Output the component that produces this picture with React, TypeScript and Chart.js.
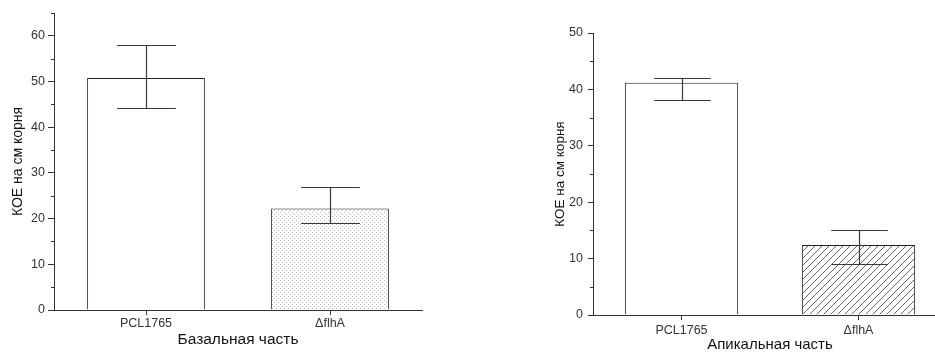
import React, { useEffect, useRef } from "react";
import { Chart, registerables } from "chart.js";

Chart.register(...registerables);

const categories = ["PCL1765", "ΔflhA"];

const basalValues = [50.8, 22.2];
const basalHigh = [58.0, 27.0];
const basalLow = [44.1, 19.0];
const basalYTicks = [0, 10, 20, 30, 40, 50, 60];
const basalMinorTicks = [5, 15, 25, 35, 45, 55, 65];

const apicalValues = [41.2, 12.4];
const apicalHigh = [42.1, 15.0];
const apicalLow = [38.1, 9.0];
const apicalYTicks = [0, 10, 20, 30, 40, 50];
const apicalMinorTicks = [5, 15, 25, 35, 45];

const yTitle = "КОЕ на см корня";
const basalTitle = "Базальная часть";
const apicalTitle = "Апикальная часть";

const FONT = "'Liberation Sans', Arial, sans-serif";

function makeDots(): CanvasPattern | string {
  const c = document.createElement("canvas");
  c.width = 4;
  c.height = 4;
  const g = c.getContext("2d");
  if (!g) return "#eee";
  g.fillStyle = "#fff";
  g.fillRect(0, 0, 4, 4);
  g.fillStyle = "#b4b4b4";
  g.fillRect(0, 0, 1, 1);
  g.fillRect(2, 2, 1, 1);
  return g.createPattern(c, "repeat") || "#eee";
}

function makeHatch(): CanvasPattern | string {
  const s = 7;
  const c = document.createElement("canvas");
  c.width = s;
  c.height = s;
  const g = c.getContext("2d");
  if (!g) return "#ddd";
  g.fillStyle = "#fff";
  g.fillRect(0, 0, s, s);
  g.strokeStyle = "#555";
  g.lineWidth = 0.9;
  g.beginPath();
  g.moveTo(0, s);
  g.lineTo(s, 0);
  g.moveTo(-1, 1);
  g.lineTo(1, -1);
  g.moveTo(s - 1, s + 1);
  g.lineTo(s + 1, s - 1);
  g.stroke();
  return g.createPattern(c, "repeat") || "#ddd";
}

function errorBarPlugin(high: number[], low: number[]) {
  return {
    id: "errbars",
    afterDatasetsDraw(chart: any) {
      const ctx = chart.ctx;
      const meta = chart.getDatasetMeta(0);
      const ys = chart.scales.y;
      ctx.save();
      ctx.strokeStyle = "#3a3a3a";
      ctx.lineWidth = 1.2;
      meta.data.forEach((bar: any, i: number) => {
        const x = Math.round(bar.x) + 0.5;
        const hw = bar.width / 4;
        const yh = Math.round(ys.getPixelForValue(high[i])) + 0.5;
        const yl = Math.round(ys.getPixelForValue(low[i])) + 0.5;
        ctx.beginPath();
        ctx.moveTo(x, yh);
        ctx.lineTo(x, yl);
        ctx.moveTo(x - hw, yh);
        ctx.lineTo(x + hw, yh);
        ctx.moveTo(x - hw, yl);
        ctx.lineTo(x + hw, yl);
        ctx.stroke();
      });
      ctx.restore();
    },
  };
}

function minorTickPlugin(minor: number[]) {
  return {
    id: "minorticks",
    afterDraw(chart: any) {
      const ctx = chart.ctx;
      const ys = chart.scales.y;
      const x0 = chart.chartArea.left;
      ctx.save();
      ctx.strokeStyle = "#333";
      ctx.lineWidth = 1;
      minor.forEach((v) => {
        const y = Math.round(ys.getPixelForValue(v)) + 0.5;
        ctx.beginPath();
        ctx.moveTo(x0 - 3, y);
        ctx.lineTo(x0, y);
        ctx.stroke();
      });
      ctx.restore();
    },
  };
}

type Cfg = {
  values: number[];
  high: number[];
  low: number[];
  yTicks: number[];
  minor: number[];
  max: number;
  fill: () => CanvasPattern | string;
  xTitle: string;
  padding: { left: number; top: number; right: number; bottom: number };
  yWidth: number;
  xHeight: number;
  yTitleSize: number;
  xTitleSize: number;
  yTitlePad: number;
  xTitlePad: number;
  xTickPad: number;
  yTickPad: number;
  tickLen: number;
};

function BarPanel(props: { cfg: Cfg; width: number; height: number }) {
  const ref = useRef<HTMLCanvasElement | null>(null);
  const { cfg, width, height } = props;
  useEffect(() => {
    if (!ref.current) return;
    const chart = new Chart(ref.current, {
      type: "bar",
      data: {
        labels: categories,
        datasets: [
          {
            data: cfg.values,
            backgroundColor: ["#ffffff", cfg.fill()],
            borderColor: "#222",
            borderWidth: 1,
            categoryPercentage: 1,
            barPercentage: 0.64,
          },
        ],
      },
      options: {
        animation: false,
        responsive: false,
        devicePixelRatio: 1,
        layout: { padding: cfg.padding },
        plugins: {
          legend: { display: false },
          tooltip: { enabled: false },
        },
        scales: {
          x: {
            grid: {
              display: true,
              drawOnChartArea: false,
              drawTicks: true,
              tickLength: 5,
              offset: false,
              color: "#333",
            },
            border: { display: true, color: "#333", width: 1 },
            ticks: {
              font: { family: FONT, size: 12.5 },
              color: "#333",
              padding: cfg.xTickPad,
            },
            title: {
              display: true,
              text: cfg.xTitle,
              font: { family: FONT, size: cfg.xTitleSize },
              color: "#111",
              padding: { top: 0, bottom: cfg.xTitlePad },
            },
            afterFit: (s: any) => {
              s.height = cfg.xHeight;
            },
          },
          y: {
            min: 0,
            max: cfg.max,
            afterBuildTicks: (s: any) => {
              s.ticks = cfg.yTicks.map((v) => ({ value: v }));
            },
            grid: {
              display: true,
              drawOnChartArea: false,
              drawTicks: true,
              tickLength: cfg.tickLen,
              color: "#333",
            },
            border: { display: true, color: "#333", width: 1 },
            ticks: {
              font: { family: FONT, size: 12.5 },
              color: "#333",
              padding: cfg.yTickPad,
            },
            title: {
              display: true,
              text: yTitle,
              font: { family: FONT, size: cfg.yTitleSize },
              color: "#111",
              padding: { top: cfg.yTitlePad, bottom: 0 },
            },
            afterFit: (s: any) => {
              s.width = cfg.yWidth;
            },
          },
        },
      },
      plugins: [errorBarPlugin(cfg.high, cfg.low), minorTickPlugin(cfg.minor)],
    } as any);
    return () => chart.destroy();
  }, []);
  return <canvas ref={ref} width={width} height={height} style={{ width, height, display: "block" }} />;
}

const basalCfg: Cfg = {
  values: basalValues,
  high: basalHigh,
  low: basalLow,
  yTicks: basalYTicks,
  minor: basalMinorTicks,
  max: 65,
  fill: makeDots,
  xTitle: basalTitle,
  padding: { left: 0, top: 13, right: 48, bottom: 0 },
  yWidth: 54,
  xHeight: 42,
  yTitleSize: 14,
  xTitleSize: 15.5,
  yTitlePad: 10,
  xTitlePad: 2.5,
  xTickPad: 1,
  yTickPad: 3,
  tickLen: 6,
};

const apicalCfg: Cfg = {
  values: apicalValues,
  high: apicalHigh,
  low: apicalLow,
  yTicks: apicalYTicks,
  minor: apicalMinorTicks,
  max: 50,
  fill: makeHatch,
  xTitle: apicalTitle,
  padding: { left: 65, top: 33, right: 33, bottom: 0 },
  yWidth: 48,
  xHeight: 45,
  yTitleSize: 13.5,
  xTitleSize: 15,
  yTitlePad: 7,
  xTitlePad: 6,
  xTickPad: 3,
  yTickPad: 5,
  tickLen: 5,
};

export default function App() {
  return (
    <div
      style={{
        position: "fixed",
        left: 0,
        top: 0,
        width: 935,
        height: 352,
        overflow: "hidden",
        background: "#fff",
      }}
    >
      <div style={{ position: "absolute", left: 0, top: 0 }}>
        <BarPanel cfg={basalCfg} width={470} height={352} />
      </div>
      <div style={{ position: "absolute", left: 480, top: 0 }}>
        <BarPanel cfg={apicalCfg} width={500} height={360} />
      </div>
    </div>
  );
}
